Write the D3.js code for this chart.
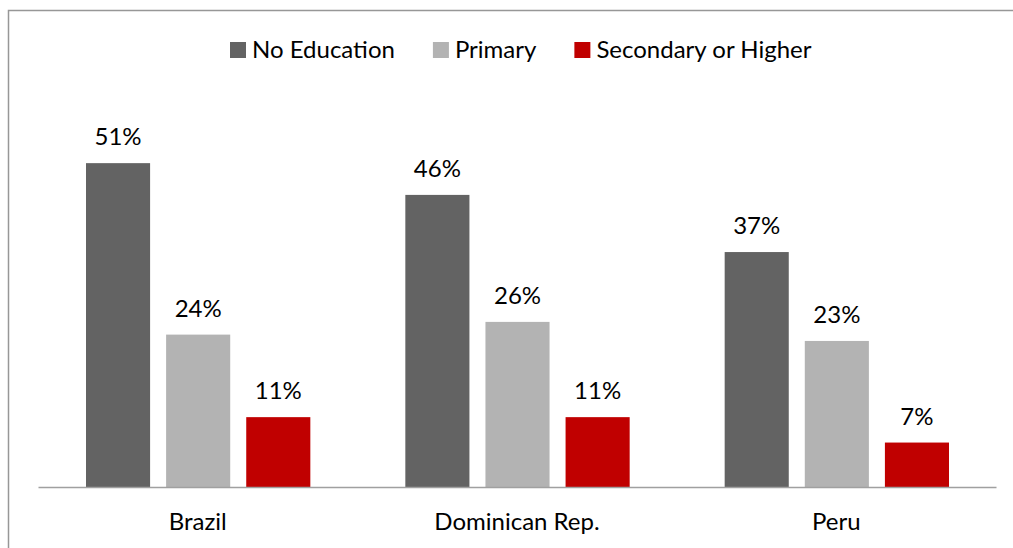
<!DOCTYPE html>
<html lang="en">
<head>
<meta charset="utf-8">
<title>Education bar chart</title>
<script src="https://cdn.jsdelivr.net/npm/d3@7"></script>
<style>
  body { margin: 0; background: #fff; }
  svg text { font-family: Lato, "Open Sans", sans-serif; font-size: 24px; fill: #000; }
</style>
</head>
<body>
<svg id="chart" width="1013" height="548"></svg>
<script>
// data
var countries = ["Brazil", "Dominican Rep.", "Peru"];
var series = ["No Education", "Primary", "Secondary or Higher"];
var noEducation = [51, 46, 37];
var primary = [24, 26, 23];
var secondary = [11, 11, 7];
var colors = ["#636363", "#b3b3b3", "#c00000"];

var values = [noEducation, primary, secondary];

var svg = d3.select("#chart");

// outer frame (only left and top visible in the picture)
svg.append("rect")
  .attr("x", 8.5).attr("y", 10.5)
  .attr("width", 1100).attr("height", 600)
  .attr("fill", "none")
  .attr("stroke", "#979797")
  .attr("stroke-width", 1.5);

var x0 = d3.scaleBand()
  .domain(countries)
  .range([38, 996]);

var x1 = d3.scaleBand()
  .domain(series)
  .range([48, x0.bandwidth() - 47])
  .paddingInner(0.2);

var y = d3.scaleLinear()
  .domain([0, 60])
  .range([487, 106]);

// bars, one group per country
var group = svg.selectAll("g.country")
  .data(countries)
  .enter().append("g")
  .attr("class", "country")
  .attr("transform", function(d) { return "translate(" + x0(d) + ",0)"; });

group.selectAll("rect")
  .data(function(d, i) {
    return series.map(function(s, j) { return { s: s, v: values[j][i], c: colors[j] }; });
  })
  .enter().append("rect")
  .attr("x", function(d) { return x1(d.s); })
  .attr("y", function(d) { return y(d.v); })
  .attr("width", x1.bandwidth())
  .attr("height", function(d) { return y(0) - y(d.v); })
  .attr("fill", function(d) { return d.c; });

group.selectAll("text.val")
  .data(function(d, i) {
    return series.map(function(s, j) { return { s: s, v: values[j][i] }; });
  })
  .enter().append("text")
  .attr("class", "val")
  .attr("x", function(d) { return x1(d.s) + x1.bandwidth() / 2; })
  .attr("y", function(d) { return y(d.v) - 18; })
  .attr("text-anchor", "middle")
  .text(function(d) { return d.v + "%"; });

// category axis
var xAxis = svg.append("g")
  .attr("transform", "translate(0," + y(0) + ")")
  .call(d3.axisBottom(x0).tickSize(0).tickPadding(26));
xAxis.select(".domain").attr("stroke", "#a0a0a0").attr("stroke-width", 1.5);
xAxis.selectAll("text")
  .attr("font-family", null)
  .attr("font-size", null)
  .attr("fill", "#000")
  .attr("dy", "0.71em");

// legend
var legend = svg.append("g").attr("class", "legend");
var lx = 230;
series.forEach(function(s, i) {
  legend.append("rect")
    .attr("x", lx).attr("y", 42)
    .attr("width", 16).attr("height", 16)
    .attr("fill", colors[i]);
  var t = legend.append("text")
    .attr("x", lx + 22).attr("y", 58)
    .text(s);
  lx += 22 + t.node().getComputedTextLength() + 38;
});
</script>
</body>
</html>
